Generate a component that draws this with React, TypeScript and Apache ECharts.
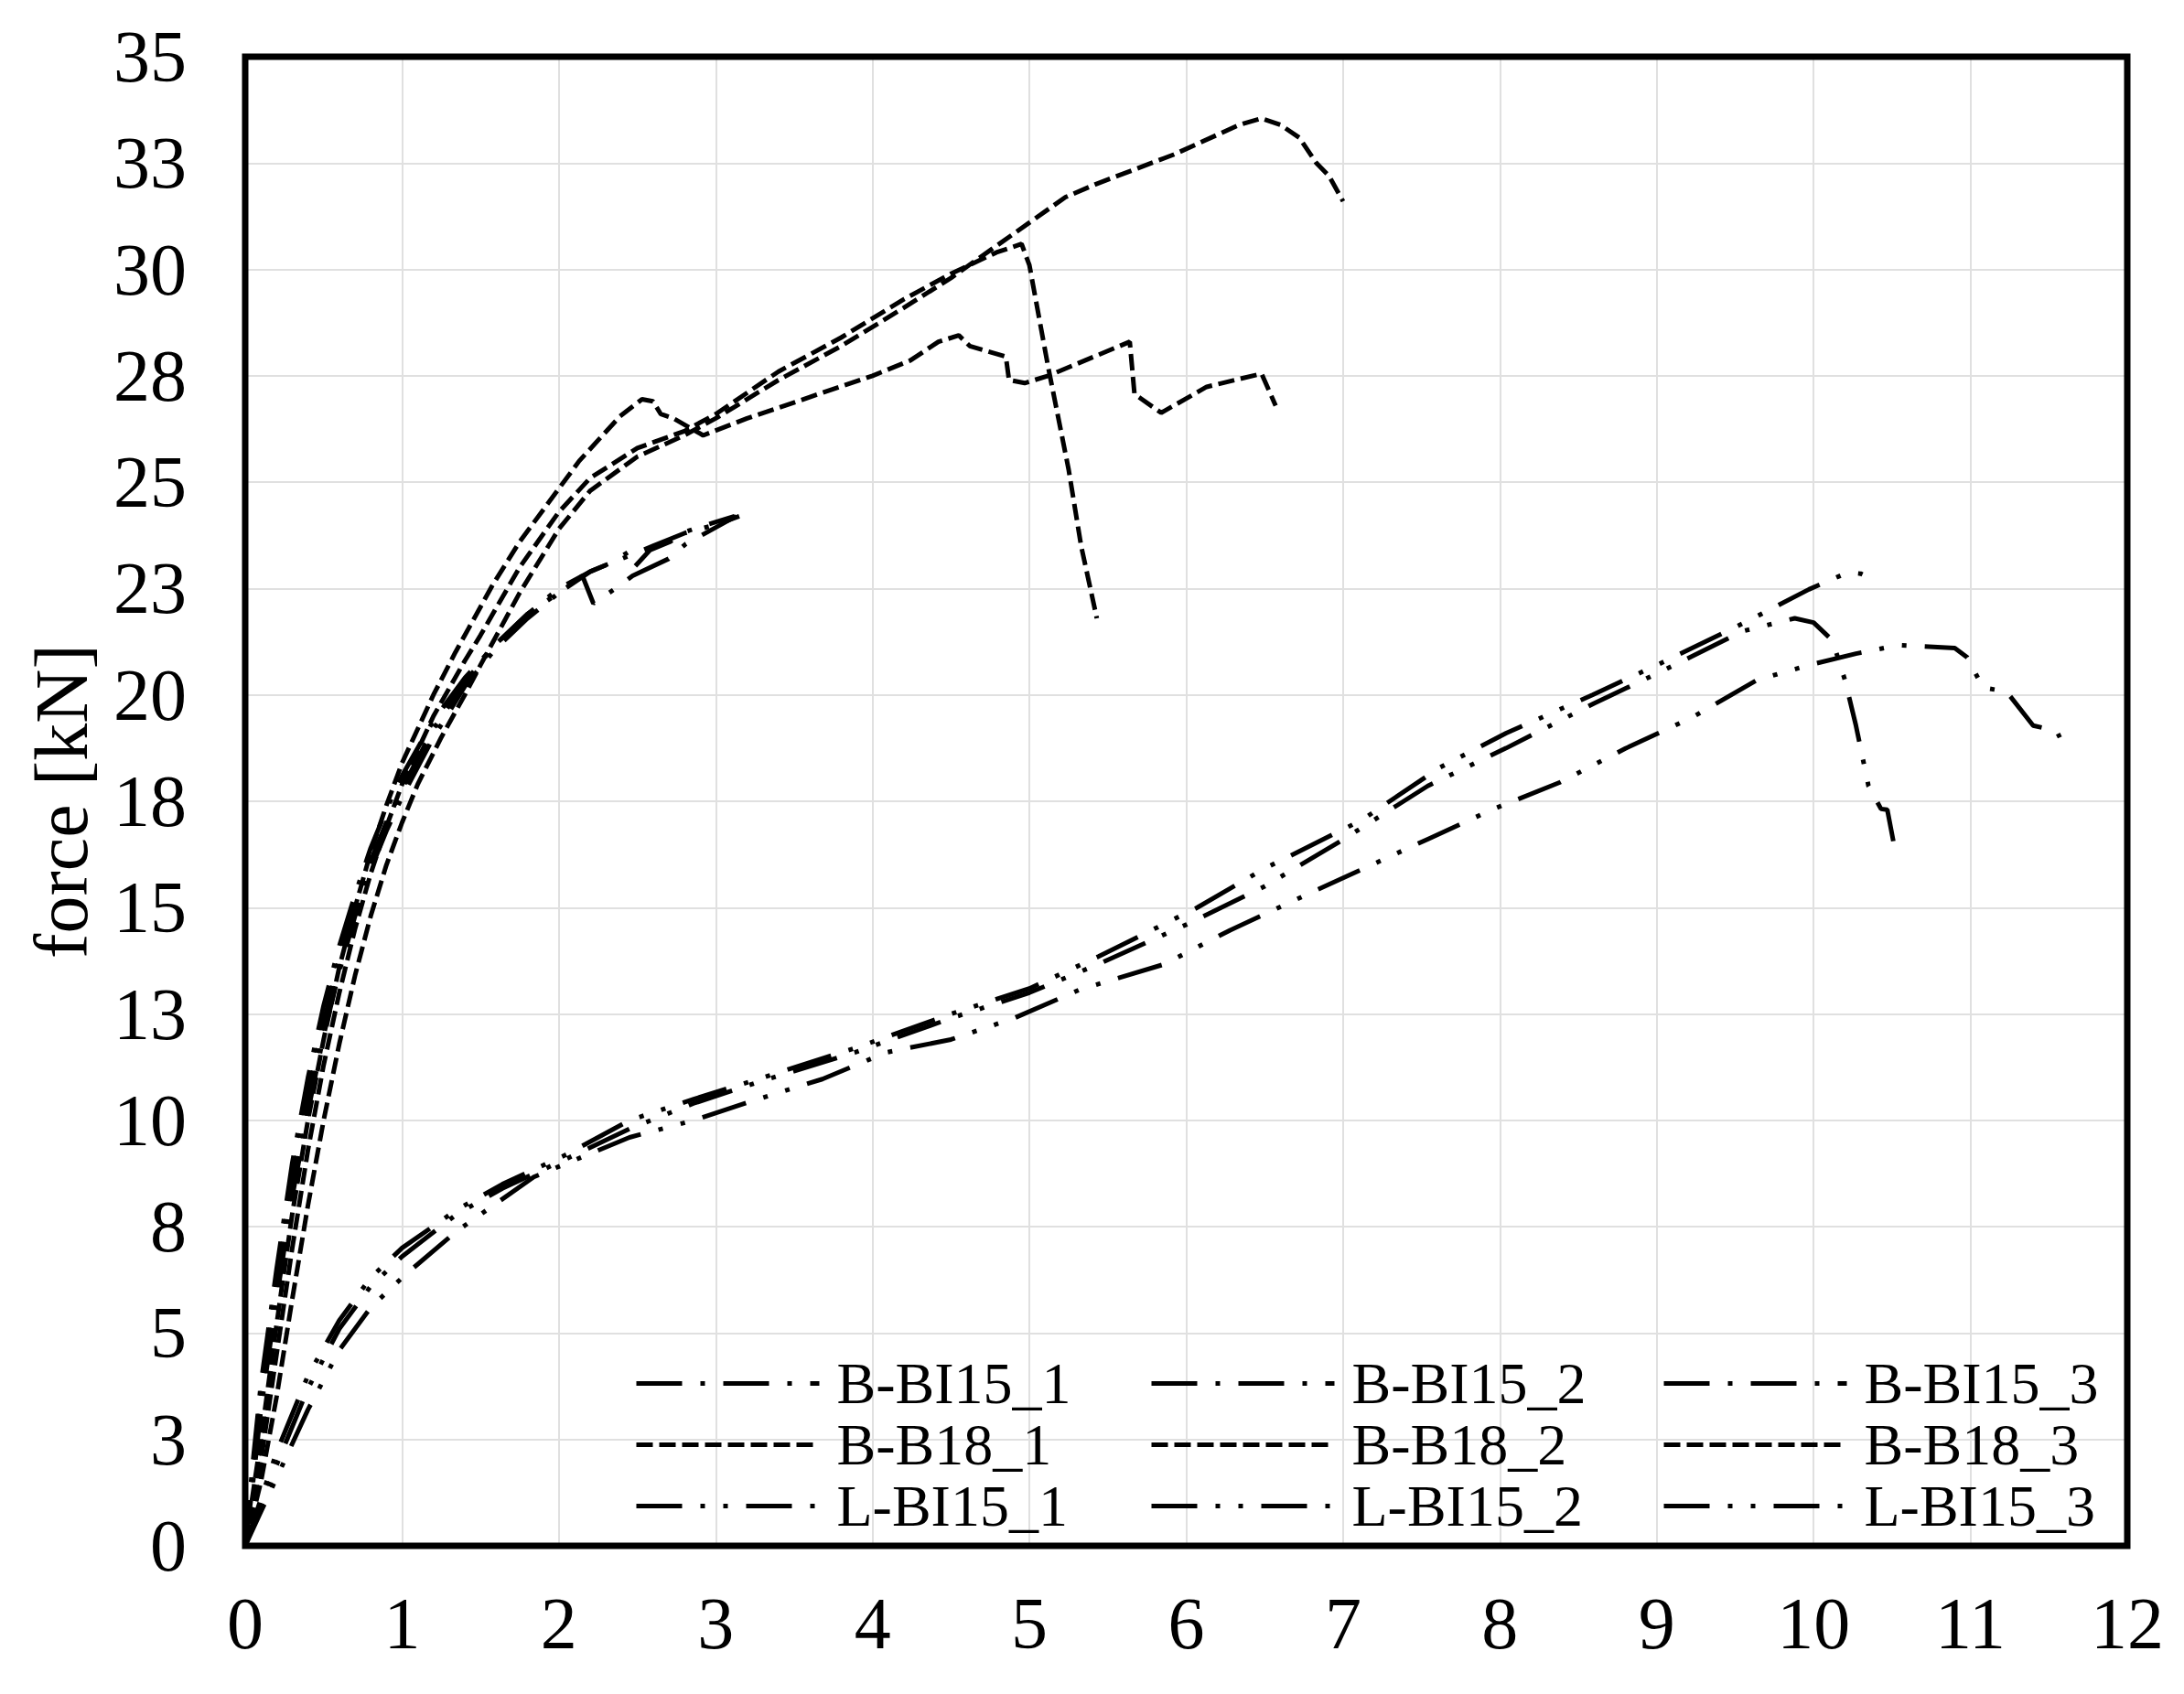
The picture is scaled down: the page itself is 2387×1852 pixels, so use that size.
import React, { useEffect, useRef } from "react";
import * as echarts from "echarts";

const FONT = "'Liberation Serif', 'Times New Roman', serif";

const seriesNames = [
  "B-BI15_1", "B-BI15_2", "B-BI15_3",
  "B-B18_1", "B-B18_2", "B-B18_3",
  "L-BI15_1", "L-BI15_2", "L-BI15_3",
];

const xTicks = [0, 12, 1];
const yTicks = [0, 35, 2.5];

const bBI15_1 = [
  [0, 0], [0.05, 2], [0.1, 3.8], [0.2, 6.5], [0.3, 9.0], [0.4, 11.0], [0.5, 12.7], [0.6, 14.1],
  [0.7, 15.3], [0.8, 16.4], [0.9, 17.3], [1.0, 18.1], [1.2, 19.4], [1.4, 20.4], [1.6, 21.2],
  [1.8, 21.9], [2.0, 22.4], [2.2, 22.9], [2.4, 23.2], [2.6, 23.5], [2.8, 23.8], [3.0, 24.0], [3.15, 24.2],
];
const bBI15_2 = [
  [0, 0], [0.05, 1.8], [0.1, 3.5], [0.2, 6.2], [0.3, 8.6], [0.4, 10.6], [0.5, 12.3], [0.6, 13.8],
  [0.7, 15.0], [0.8, 16.1], [0.9, 17.0], [1.0, 17.8], [1.2, 19.2], [1.4, 20.3], [1.6, 21.2],
  [1.8, 21.9], [2.0, 22.5], [2.2, 22.9], [2.33, 23.1], [2.44, 23.35], [2.48, 23.0], [2.58, 23.4],
  [2.71, 23.6], [2.78, 23.8], [2.9, 23.95], [3.12, 24.2],
];
const bBI15_3 = [
  [0, 0], [0.05, 1.5], [0.1, 3.2], [0.2, 5.8], [0.3, 8.2], [0.4, 10.2], [0.5, 12.0], [0.6, 13.5],
  [0.7, 14.8], [0.8, 15.9], [0.9, 16.8], [1.0, 17.6], [1.2, 19.0], [1.4, 20.2], [1.6, 21.1],
  [1.8, 21.8], [2.0, 22.4], [2.15, 22.8], [2.22, 22.15], [2.36, 22.5], [2.47, 22.8], [2.7, 23.2],
  [2.81, 23.55], [3.13, 24.2],
];
const bB18_1 = [
  [0, 0], [0.1, 1.5], [0.2, 3.5], [0.3, 5.8], [0.4, 8.0], [0.5, 10.0], [0.6, 11.8], [0.7, 13.4],
  [0.8, 14.8], [0.9, 16.0], [1.0, 17.0], [1.1, 17.9], [1.25, 19.0], [1.4, 20.0], [1.5, 20.7],
  [1.75, 22.4], [2.0, 23.9], [2.2, 24.8], [2.5, 25.6], [2.8, 26.1], [3.0, 26.5], [3.4, 27.4],
  [3.8, 28.2], [4.2, 29.1], [4.5, 29.8], [5.0, 31.1], [5.23, 31.7], [5.42, 32.0], [5.92, 32.7],
  [6.34, 33.4], [6.48, 33.55], [6.6, 33.4], [6.72, 33.1], [6.83, 32.5], [6.91, 32.2], [7.0, 31.6],
];
const bB18_2 = [
  [0, 0], [0.1, 2.0], [0.2, 4.5], [0.3, 7.0], [0.4, 9.3], [0.5, 11.3], [0.6, 13.0], [0.7, 14.5],
  [0.8, 15.8], [0.9, 16.9], [1.0, 17.9], [1.2, 19.5], [1.4, 20.8], [1.5, 21.4], [1.75, 23.0],
  [2.0, 24.3], [2.2, 25.1], [2.5, 25.8], [2.8, 26.2], [3.0, 26.6], [3.4, 27.6], [3.8, 28.4],
  [4.2, 29.3], [4.5, 29.9], [4.79, 30.4], [4.95, 30.6], [5.0, 30.1], [5.12, 27.7], [5.25, 25.3],
  [5.33, 23.5], [5.43, 21.8],
];
const bB18_3 = [
  [0, 0], [0.1, 2.5], [0.2, 5.2], [0.3, 7.8], [0.4, 10.0], [0.5, 11.9], [0.6, 13.6], [0.7, 15.0],
  [0.8, 16.3], [0.9, 17.4], [1.0, 18.4], [1.2, 20.0], [1.34, 21.0], [1.58, 22.6], [1.75, 23.6],
  [1.91, 24.4], [2.13, 25.5], [2.39, 26.55], [2.53, 26.95], [2.6, 26.9], [2.65, 26.6], [2.73, 26.5],
  [2.92, 26.1], [3.2, 26.5], [3.6, 27.0], [4.0, 27.5], [4.24, 27.86], [4.42, 28.3], [4.55, 28.45],
  [4.62, 28.2], [4.85, 27.95], [4.87, 27.4], [4.97, 27.33], [5.12, 27.5], [5.64, 28.3], [5.67, 27.07],
  [5.84, 26.63], [6.13, 27.24], [6.48, 27.55], [6.57, 26.8],
];
const lBI15_1 = [
  [0, 0], [0.1, 1.1], [0.2, 2.2], [0.4, 4.0], [0.6, 5.3], [0.8, 6.3], [1.0, 7.0], [1.35, 7.9],
  [1.64, 8.5], [2.05, 9.2], [2.45, 10.0], [2.86, 10.5], [3.27, 10.97], [3.89, 11.7], [4.5, 12.5],
  [5.0, 13.1], [5.44, 13.85], [6.07, 15.0], [6.49, 15.9], [7.12, 17.06], [7.62, 18.3], [8.04, 19.1],
  [8.59, 20.0], [9.0, 20.7], [9.55, 21.68], [9.97, 22.48], [10.22, 22.88], [10.3, 22.85], [10.39, 22.7],
];
const lBI15_2 = [
  [0, 0], [0.1, 0.9], [0.2, 1.9], [0.4, 3.7], [0.6, 5.1], [0.8, 6.1], [1.0, 6.8], [1.35, 7.8],
  [1.64, 8.4], [2.05, 9.1], [2.45, 9.8], [2.86, 10.4], [3.27, 10.9], [3.89, 11.6], [4.5, 12.4],
  [5.0, 13.0], [5.44, 13.67], [6.0, 14.6], [6.5, 15.5], [7.0, 16.6], [7.54, 17.86], [8.04, 18.75],
  [8.6, 19.8], [9.0, 20.5], [9.55, 21.5], [9.88, 21.8], [10.0, 21.7], [10.12, 21.28], [10.2, 20.35],
  [10.27, 19.28], [10.35, 17.86], [10.43, 17.32], [10.47, 17.3], [10.52, 16.34],
];
const lBI15_3 = [
  [0, 0], [0.1, 0.8], [0.2, 1.6], [0.4, 3.2], [0.6, 4.6], [0.8, 5.6], [1.02, 6.37], [1.35, 7.4],
  [1.84, 8.67], [2.45, 9.6], [2.86, 10.0], [3.27, 10.5], [3.68, 10.97], [4.09, 11.6], [4.5, 11.9],
  [4.9, 12.4], [5.32, 13.07], [5.86, 13.67], [6.28, 14.47], [6.7, 15.19], [7.12, 15.9], [7.54, 16.61],
  [7.96, 17.32], [8.38, 17.94], [8.8, 18.74], [9.22, 19.46], [9.64, 20.35], [9.97, 20.7],
  [10.27, 20.97], [10.54, 21.17], [10.9, 21.1], [10.98, 20.88], [11.08, 20.17], [11.23, 20.08],
  [11.4, 19.28], [11.55, 19.15], [11.57, 19.0],
];

const seriesData = [bBI15_1, bBI15_2, bBI15_3, bB18_1, bB18_2, bB18_3, lBI15_1, lBI15_2, lBI15_3];

const DASH_DOT = [50, 20, 5, 20];
const DASH = [18, 7];
const DASH_DOT_DOT = [50, 20, 5, 20, 5, 20];
const patterns = [DASH_DOT, DASH_DOT, DASH_DOT, DASH, DASH, DASH, DASH_DOT_DOT, DASH_DOT_DOT, DASH_DOT_DOT];

const legendColumns = [
  ["B-BI15_1", "B-B18_1", "L-BI15_1"],
  ["B-BI15_2", "B-B18_2", "L-BI15_2"],
  ["B-BI15_3", "B-B18_3", "L-BI15_3"],
];
const legendLefts = [693, 1256, 1816];

const GRID = { left: 268, right: 62, top: 62, bottom: 162 };
const W = 2387;
const H = 1852;

export default function App() {
  const ref = useRef<HTMLDivElement>(null);
  useEffect(() => {
    document.body.style.margin = "0";
    if (!ref.current) return;
    const chart = echarts.init(ref.current, undefined, { renderer: "svg" });
    chart.setOption({
      animation: false,
      backgroundColor: "#fff",
      textStyle: { fontFamily: FONT, color: "#000" },
      grid: { ...GRID, show: false },
      graphic: [
        {
          type: "rect",
          z: 100,
          silent: true,
          shape: {
            x: GRID.left,
            y: GRID.top,
            width: W - GRID.left - GRID.right,
            height: H - GRID.top - GRID.bottom,
          },
          style: { fill: "transparent", stroke: "#000", lineWidth: 7 },
        },
      ],
      legend: legendColumns.map((col, i) => ({
        orient: "vertical",
        left: legendLefts[i],
        top: 1479,
        padding: 0,
        itemGap: 0,
        itemWidth: 200,
        itemHeight: 20,
        selectedMode: false,
        data: col,
        lineStyle: { width: 5 },
        itemStyle: { opacity: 0, borderWidth: 0 },
        textStyle: { fontFamily: FONT, fontSize: 64, color: "#000", lineHeight: 67, padding: [0, 0, 0, 14] },
      })),
      xAxis: {
        type: "value",
        min: xTicks[0], max: xTicks[1], interval: xTicks[2],
        axisLine: { show: false },
        axisTick: { show: false },
        axisLabel: { fontFamily: FONT, fontSize: 80, color: "#000", margin: 45 },
        splitLine: { show: true, lineStyle: { color: "#e0e0e0", width: 2 } },
      },
      yAxis: {
        type: "value",
        min: yTicks[0], max: yTicks[1], interval: yTicks[2],
        name: "force [kN]",
        nameLocation: "middle",
        nameGap: 160,
        nameTextStyle: { fontFamily: FONT, fontSize: 82, color: "#000" },
        axisLine: { show: false },
        axisTick: { show: false },
        axisLabel: {
          fontFamily: FONT, fontSize: 80, color: "#000", margin: 64,
          formatter: (v: number) => String(Math.round(v)),
        },
        splitLine: { show: true, lineStyle: { color: "#e0e0e0", width: 2 } },
      },
      series: seriesNames.map((name, i) => ({
        name,
        type: "line",
        data: seriesData[i],
        symbol: "none",
        showSymbol: false,
        smooth: false,
        color: "#000",
        lineStyle: { color: "#000", width: 5, type: patterns[i] },
      })),
    });
    return () => chart.dispose();
  }, []);
  return <div ref={ref} style={{ width: W, height: H }} />;
}
